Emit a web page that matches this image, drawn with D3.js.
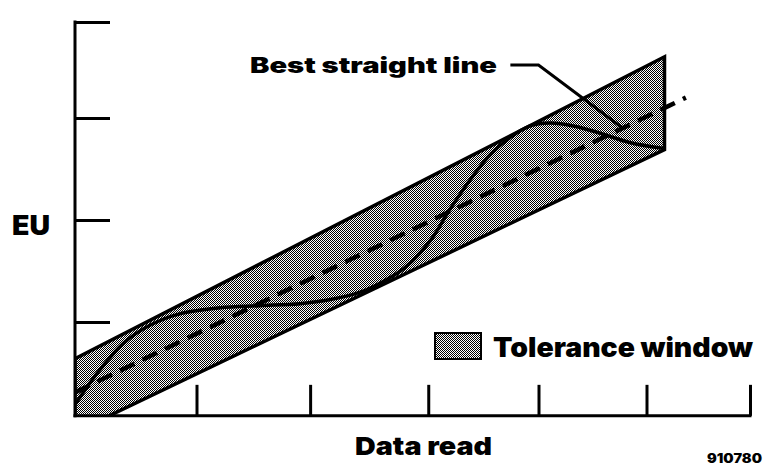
<!DOCTYPE html>
<html>
<head>
<meta charset="utf-8">
<script src="https://cdn.jsdelivr.net/npm/d3@7"></script>
<style>
  html, body { margin: 0; padding: 0; background: #fff; }
  svg { display: block; }
  .lbl { font-family: Inter, "Liberation Sans", Arial, sans-serif; font-weight: 900; fill: #000; }
</style>
</head>
<body>
<svg id="chart" width="765" height="465"></svg>
<script>
(function(d3){
  "use strict";

// ----- data (x: data read, y: EU) -----
var xTicks = [1.08, 2.09, 3.14, 4.12, 5.08, 6.0];
var yTicks = [1, 2, 3, 3.94];          // last one is the cap at the top
var axisBase = 0.08;

// measured curve
var curveX = [0, 0.22, 0.44, 0.67, 0.93, 1.29, 1.64, 2.0, 2.27, 2.53, 2.76, 2.93,
              3.16, 3.33, 3.51, 3.69, 3.87, 4.04, 4.22, 4.44, 4.67, 4.93, 5.24];
var curveY = [0.19, 0.53, 0.80, 0.97, 1.08, 1.14, 1.16, 1.18, 1.22, 1.29, 1.41, 1.53,
              1.80, 2.10, 2.39, 2.64, 2.81, 2.92, 2.95, 2.92, 2.85, 2.76, 2.70];

// best straight line
var fitX = [0, 5.43];
var fitY = [0.31, 3.20];

// tolerance window
var bandX = [0, 5.24];
var bandUpper = [0.64, 3.60];
var bandLower = [-0.08, 2.69];

// leader from the label to the straight line
var leaderX = [3.87, 4.12, 4.87];
var leaderY = [3.52, 3.52, 2.90];

var W = 765, H = 465;
var svg = d3.select("#chart");

var x = d3.scaleLinear().domain([0, 6]).range([75, 750]);
var y = d3.scaleLinear().domain([0, 3]).range([424, 118]);

// halftone fill like the scan
var defs = svg.append("defs");
var pat = defs.append("pattern")
    .attr("id", "dots")
    .attr("patternUnits", "userSpaceOnUse")
    .attr("width", 2).attr("height", 2);
pat.append("rect").attr("width", 2).attr("height", 2).attr("fill", "#fff");
pat.append("rect").attr("x", 0).attr("y", 0).attr("width", 1).attr("height", 1).attr("fill", "#000");
pat.append("rect").attr("x", 1).attr("y", 1).attr("width", 1).attr("height", 1).attr("fill", "#000");

defs.append("clipPath").attr("id", "plot")
  .append("rect")
    .attr("x", x(0)).attr("y", 0)
    .attr("width", W - x(0)).attr("height", y(axisBase));

var g = svg.append("g").attr("clip-path", "url(#plot)");

// band
var band = bandX.map(function(v, i){ return {x: v, lo: bandLower[i], hi: bandUpper[i]}; });
var area = d3.area()
    .x(function(d){ return x(d.x); })
    .y0(function(d){ return y(d.lo); })
    .y1(function(d){ return y(d.hi); });
g.append("path")
    .datum(band)
    .attr("d", area)
    .attr("fill", "url(#dots)")
    .attr("stroke", "#000")
    .attr("stroke-width", 3.5)
    .attr("stroke-linejoin", "miter");

var line = d3.line()
    .x(function(d){ return x(d[0]); })
    .y(function(d){ return y(d[1]); });

// measured curve
g.append("path")
    .datum(d3.zip(curveX, curveY))
    .attr("d", line.curve(d3.curveCatmullRom))
    .attr("fill", "none")
    .attr("stroke", "#000")
    .attr("stroke-width", 3.5);

// best straight line, dashed
svg.append("path")
    .datum(d3.zip(fitX, fitY))
    .attr("d", line.curve(d3.curveLinear))
    .attr("fill", "none")
    .attr("stroke", "#000")
    .attr("stroke-width", 4.5)
    .attr("stroke-dasharray", "16,9");

// leader
svg.append("path")
    .datum(d3.zip(leaderX, leaderY))
    .attr("d", line)
    .attr("fill", "none")
    .attr("stroke", "#000")
    .attr("stroke-width", 3);

// axes
var yAxis = d3.axisRight(y).tickValues(yTicks).tickSize(35).tickFormat("");
var ya = svg.append("g").attr("transform", "translate(" + x(0) + ",0)").call(yAxis);
var xAxis = d3.axisTop(x).tickValues(xTicks).tickSize(31).tickFormat("");
var xa = svg.append("g").attr("transform", "translate(0," + y(axisBase) + ")").call(xAxis);
[ya, xa].forEach(function(a){
  a.select(".domain").remove();
  a.selectAll("line").attr("stroke", "#000").attr("stroke-width", 3);
});
svg.append("line")
    .attr("x1", x(0)).attr("x2", x(0))
    .attr("y1", y(yTicks[yTicks.length - 1]) - 1.5).attr("y2", y(axisBase) + 1.5)
    .attr("stroke", "#000").attr("stroke-width", 3);
svg.append("line")
    .attr("x1", x(0) - 1.5).attr("x2", x(6) + 1.5)
    .attr("y1", y(axisBase)).attr("y2", y(axisBase))
    .attr("stroke", "#000").attr("stroke-width", 3);

// legend
svg.append("rect")
    .attr("x", 435).attr("y", 333).attr("width", 46).attr("height", 26)
    .attr("fill", "url(#dots)").attr("stroke", "#000").attr("stroke-width", 2);

// text
function label(t, px, py, size, len){
  svg.append("text").attr("class", "lbl")
    .attr("x", px).attr("y", py)
    .attr("font-size", size)
    .attr("textLength", len)
    .attr("lengthAdjust", "spacingAndGlyphs")
    .text(t);
}
label("Best straight line", 250, 73, 21, 247);
label("Tolerance window", 493, 357, 27, 260);
label("EU", 12, 235, 27, 38);
label("Data read", 355, 455, 25, 137);
label("910780", 707, 463, 13, 55);

})(d3);
</script>
</body>
</html>
